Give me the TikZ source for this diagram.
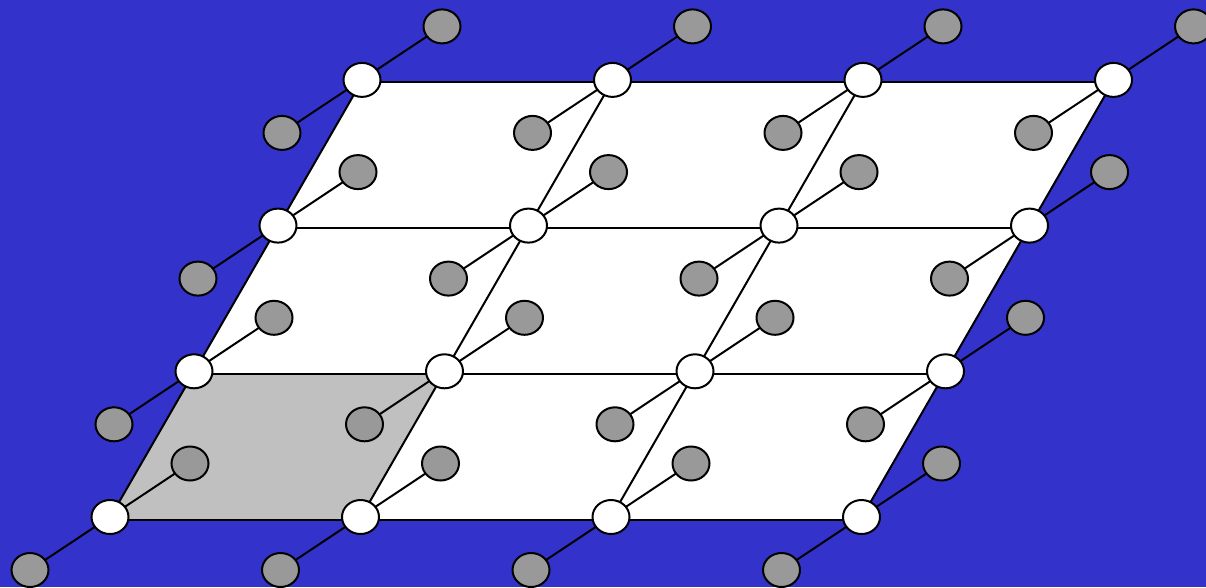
\documentclass[tikz,border=0pt]{standalone}
\usetikzlibrary{calc,shapes.geometric}
\definecolor{bg}{HTML}{3333CC}
\definecolor{atom}{HTML}{999999}
\definecolor{cellg}{HTML}{C0C0C0}
\pgfdeclarelayer{bglayer}
\pgfdeclarelayer{edges}
\pgfsetlayers{bglayer,edges,main}
\tikzset{
  site/.style={ellipse, draw=black, line width=2pt, fill=white, minimum width=37pt, minimum height=34pt, inner sep=0pt},
  atomnode/.style={ellipse, draw=black, line width=2pt, fill=atom, minimum width=37pt, minimum height=34pt, inner sep=0pt},
  link/.style={draw=black, line width=2pt}
}
\begin{document}
\begin{tikzpicture}[x=1pt,y=-1pt]
\begin{pgfonlayer}{bglayer}
\fill[bg] (0,0) rectangle (1206,587);
\end{pgfonlayer}
\useasboundingbox (0,0) rectangle (1206,587);
\foreach \r in {0,...,3}{
  \foreach \c in {0,...,3}{
    \node[site] (w\r\c) at ({110+250.5*\c+84*\r},{517-145.7*\r}) {};
    \coordinate (v\r\c) at ($(w\r\c.center)+(-1,2.5)$);
    \node[atomnode] (u\r\c) at ($(w\r\c.center)+(80,-53.5)$) {};
    \node[atomnode] (l\r\c) at ($(w\r\c.center)+(-80,53)$) {};
  }
}
\begin{pgfonlayer}{edges}
  \fill[white] (v00) -- (v03) -- (v33) -- (v30) -- cycle;
  \fill[cellg] (v00) -- (v01) -- (v11) -- (v10) -- cycle;
  \foreach \r in {0,...,3}{
    \draw[link] (v\r0) -- (v\r1) -- (v\r2) -- (v\r3);
    \draw[link] (v0\r) -- (v1\r) -- (v2\r) -- (v3\r);
    \foreach \c in {0,...,3}{
      \draw[link] (l\r\c.center) -- (u\r\c.center);
    }
  }
\end{pgfonlayer}
\end{tikzpicture}
\end{document}
